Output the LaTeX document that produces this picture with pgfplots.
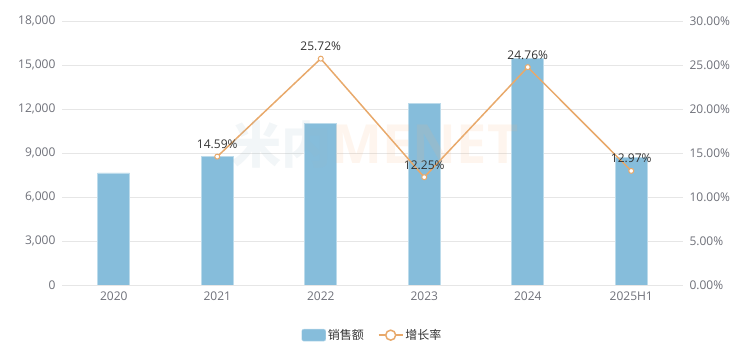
\documentclass[border=0pt]{standalone}
\usepackage{pgfplots}
\pgfplotsset{compat=1.18}
\usepackage{fontspec}
\setmainfont{Open Sans}
\newfontfamily\cjk{Noto Sans CJK SC}
\definecolor{barc}{HTML}{86BDDB}
\definecolor{linec}{HTML}{E8A96B}
\definecolor{tickc}{HTML}{6E7079}
\definecolor{gridc}{HTML}{E6E6E6}
\definecolor{labc}{HTML}{333333}
\definecolor{wmblue}{HTML}{9DB8C6}
\definecolor{wmorange}{HTML}{F4B27A}
\begin{document}
\begin{tikzpicture}
\useasboundingbox (-62pt,-76pt) rectangle (691pt,285pt);
\pgfplotsset{
 common/.style={
  scale only axis, width=621pt, height=264pt, at={(0pt,0pt)}, anchor=south west,
  xmin=-0.5, xmax=5.5, xtick={0,...,5},
  xticklabels={2020,2021,2022,2023,2024,2025H1},
  tick style={draw=none},
  ticklabel style={font=\fontsize{12}{14}\selectfont, text=tickc},
  /pgf/number format/assume math mode=true,
  axis line style={draw=none},
 }
}
\begin{axis}[common, ymin=0, ymax=18000, ytick={0,3000,...,18000},
  ymajorgrids, grid style={gridc, line width=0.8pt},
  scaled y ticks=false,
  yticklabel style={/pgf/number format/fixed, /pgf/number format/1000 sep={,}, xshift=-3pt},
  xticklabel style={yshift=-3pt}]
\addplot[ybar, bar width=32pt, fill=barc, draw=barc!55!white, line width=0.8pt]
  coordinates {(0,7640) (1,8750) (2,11030) (3,12390) (4,15460) (5,8710)};
\end{axis}
\begin{axis}[common, ymin=0, ymax=30, ytick={0,5,...,30},
  axis y line*=right, axis x line=none,
  yticklabel style={xshift=3pt},
  yticklabel={\pgfmathprintnumber[fixed,fixed zerofill,precision=2]{\tick}\%},
  legend style={at={(0.5,-0.19)}, anchor=center, draw=none, fill=none,
    legend columns=-1, font=\fontsize{12}{14}\selectfont, text=labc,
    /tikz/every even column/.append style={column sep=12pt}},
  legend cell align=left]
\addlegendimage{legend image code/.code={\draw[fill=barc, draw=barc!55!white, rounded corners=2pt] (0pt,-6pt) rectangle (24pt,6pt);}}
\addlegendentry{\cjk 销售额}
\addplot[linec, line width=1.5pt, mark=*, mark size=2.5pt,
  mark options={fill=white, draw=linec, line width=1pt},
  nodes near coords={\pgfmathprintnumber[fixed,fixed zerofill,precision=2]{\pgfplotspointmeta}\%},
  nodes near coords style={font=\fontsize{12}{14}\selectfont, text=labc, anchor=south, yshift=4pt},
  legend image code/.code={\draw[linec, line width=1.5pt] (0pt,0pt) -- (24pt,0pt); \draw[linec, fill=white, line width=1.5pt] (12pt,0pt) circle (5pt);}]
  coordinates {(1,14.59) (2,25.72) (3,12.25) (4,24.76) (5,12.97)};
\addlegendentry{\cjk 增长率}
\end{axis}
\node[opacity=0.13, anchor=center] at (313pt,140pt) {{\cjk\bfseries\fontsize{50}{50}\selectfont\color{wmblue}米内}{\bfseries\fontsize{54}{54}\selectfont\color{wmorange}MENET}};
\end{tikzpicture}
\end{document}
